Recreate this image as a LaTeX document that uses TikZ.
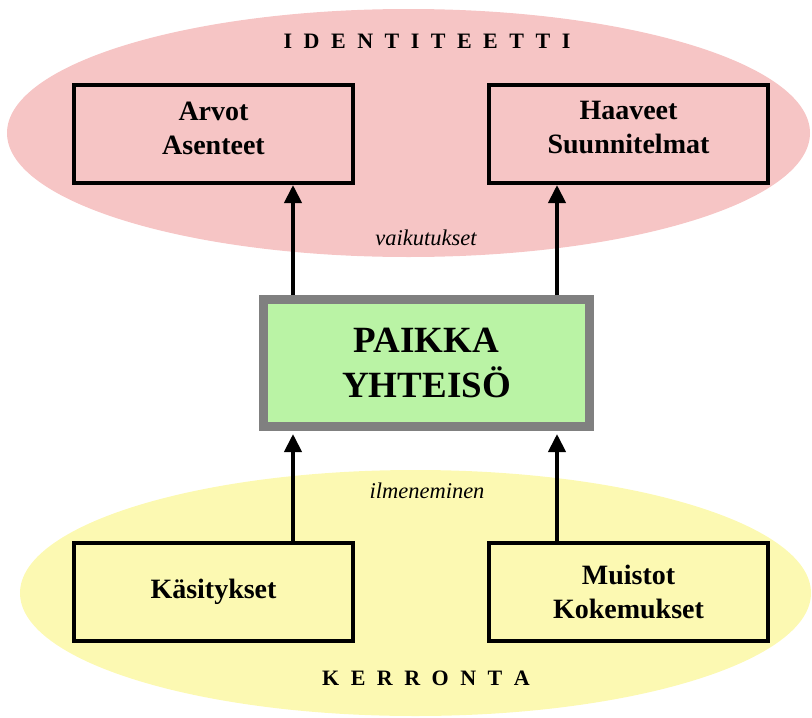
\documentclass[tikz,border=0pt]{standalone}
\usepackage{fontspec}
\setmainfont{Liberation Serif}
\usetikzlibrary{arrows.meta,shapes.geometric}
\definecolor{pinkbg}{HTML}{F6C5C5}
\definecolor{yellowbg}{HTML}{FCF9B2}
\definecolor{greenbg}{HTML}{BAF3A5}
\definecolor{grayline}{HTML}{808080}
\newcommand\lgap{\hspace{11.5pt}}
\begin{document}
\begin{tikzpicture}[x=1pt,y=-1pt,
  zone/.style={ellipse,inner sep=0pt,draw=none},
  box/.style={draw=black,line width=4pt,minimum width=279pt,minimum height=98pt,inner sep=0pt},
  boxtext/.style={font=\fontsize{28}{34}\selectfont\bfseries,align=center,inner sep=0pt},
  title/.style={font=\fontsize{22}{26}\selectfont\bfseries,inner sep=0pt},
  lbl/.style={font=\fontsize{22.5}{26}\selectfont\itshape,inner sep=0pt,anchor=base},
  arr/.style={line width=4pt,-{Triangle[length=18pt,width=17pt]}}]
\useasboundingbox (0,0) rectangle (812,718);
% zones
\node[zone,fill=pinkbg,minimum width=803pt,minimum height=248pt] (ident) at (408.5,133) {};
\node[zone,fill=yellowbg,minimum width=791pt,minimum height=246pt] (kerr) at (415.5,593) {};
\node[title] (identt) at (427,41) {I\lgap D\lgap E\lgap N\lgap T\lgap I\lgap T\lgap E\lgap E\lgap T\lgap T\lgap I};
\node[title] (kerrt) at (426,678) {K\lgap E\lgap R\lgap R\lgap O\lgap N\lgap T\lgap A};
% boxes
\node[box] (arvot) at (213.5,134) {};
\node[boxtext,yshift=6pt] (arvott) at (arvot.center) {Arvot\\Asenteet};
\node[box] (haav) at (628.5,134) {};
\node[boxtext,yshift=6pt] (haavt) at (haav.center) {Haaveet\\Suunnitelmat};
\node[box] (kas) at (213.5,592) {};
\node[boxtext] (kast) at (kas.center) {Käsitykset};
\node[box] (mui) at (628.5,592) {};
\node[boxtext] (muit) at (mui.center) {Muistot\\Kokemukset};
\node[draw=grayline,fill=greenbg,line width=9pt,minimum width=326pt,minimum height=127pt,inner sep=0pt,
  font=\fontsize{37}{45}\selectfont\bfseries,align=center] (pk) at (426.5,363) {PAIKKA\\YHTEISÖ};
% labels
\node[lbl] (vaik) at (426,245) {vaikutukset};
\node[lbl] (ilme) at (427,498) {ilmeneminen};
% arrows
\coordinate (xa) at (293,0);
\coordinate (xb) at (557,0);
\draw[arr] (pk.north -| xa) -- (arvot.south -| xa);
\draw[arr] (pk.north -| xb) -- (haav.south -| xb);
\draw[arr,shorten >=3pt] (kas.north -| xa) -- (pk.south -| xa);
\draw[arr,shorten >=3pt] (mui.north -| xb) -- (pk.south -| xb);
\end{tikzpicture}
\end{document}
